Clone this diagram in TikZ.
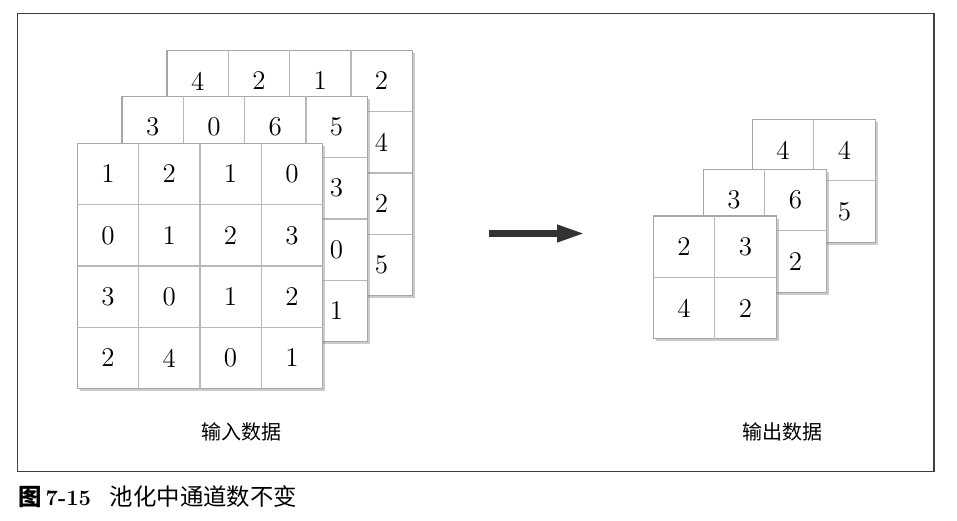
\documentclass[tikz,border=0pt]{standalone}
\usepackage{fontspec}
\newfontfamily\cjk{Noto Sans CJK SC}
\usetikzlibrary{arrows.meta,shadows}

\begin{document}
\begin{tikzpicture}[x=0.5pt,y=-0.5pt,
  layer/.style={draw=black!35,fill=white,line width=0.6pt,
    drop shadow={shadow xshift=1.3pt,shadow yshift=-1.3pt,opacity=0.4}},
  gridline/.style={draw=black!28,line width=0.6pt},
  num/.style={font=\fontsize{13.5}{16}\selectfont,inner sep=0pt},
  label/.style={font=\cjk\fontsize{10}{12}\selectfont}]
\useasboundingbox (0,0) rectangle (957,520);
\draw[black!75,line width=0.7pt] (17.5,13.5) rectangle (934,471.5);
% input, back layer
\draw[layer] (167.0,50.3) rectangle (412.2,295.5);
\draw[gridline] (228.3,50.3) -- (228.3,295.5);
\draw[gridline] (289.6,50.3) -- (289.6,295.5);
\draw[gridline] (350.9,50.3) -- (350.9,295.5);
\draw[gridline] (167.0,111.6) -- (412.2,111.6);
\draw[gridline] (167.0,172.9) -- (412.2,172.9);
\draw[gridline] (167.0,234.2) -- (412.2,234.2);
\node[num] (inc00) at (197.7,81.0) {4};
\node[num] (inc01) at (259.0,81.0) {2};
\node[num] (inc02) at (320.3,81.0) {1};
\node[num] (inc03) at (381.6,81.0) {2};
\node[num] (inc13) at (381.6,142.3) {4};
\node[num] (inc23) at (381.6,203.6) {2};
\node[num] (inc33) at (381.6,264.9) {5};
% input, middle layer
\draw[layer] (122.0,96.3) rectangle (367.2,341.5);
\draw[gridline] (183.3,96.3) -- (183.3,341.5);
\draw[gridline] (244.6,96.3) -- (244.6,341.5);
\draw[gridline] (305.9,96.3) -- (305.9,341.5);
\draw[gridline] (122.0,157.6) -- (367.2,157.6);
\draw[gridline] (122.0,218.9) -- (367.2,218.9);
\draw[gridline] (122.0,280.2) -- (367.2,280.2);
\node[num] (inb00) at (152.7,127.0) {3};
\node[num] (inb01) at (214.0,127.0) {0};
\node[num] (inb02) at (275.3,127.0) {6};
\node[num] (inb03) at (336.6,127.0) {5};
\node[num] (inb13) at (336.6,188.3) {3};
\node[num] (inb23) at (336.6,249.6) {0};
\node[num] (inb33) at (336.6,310.9) {1};
% input, front layer
\draw[layer] (77.3,143.3) rectangle (322.5,388.5);
\draw[gridline] (138.6,143.3) -- (138.6,388.5);
\draw[gridline] (199.9,143.3) -- (199.9,388.5);
\draw[gridline] (261.2,143.3) -- (261.2,388.5);
\draw[gridline] (77.3,204.6) -- (322.5,204.6);
\draw[gridline] (77.3,265.9) -- (322.5,265.9);
\draw[gridline] (77.3,327.2) -- (322.5,327.2);
\node[num] (ina00) at (108.0,174.0) {1};
\node[num] (ina01) at (169.3,174.0) {2};
\node[num] (ina02) at (230.6,174.0) {1};
\node[num] (ina03) at (291.9,174.0) {0};
\node[num] (ina10) at (108.0,235.3) {0};
\node[num] (ina11) at (169.3,235.3) {1};
\node[num] (ina12) at (230.6,235.3) {2};
\node[num] (ina13) at (291.9,235.3) {3};
\node[num] (ina20) at (108.0,296.6) {3};
\node[num] (ina21) at (169.3,296.6) {0};
\node[num] (ina22) at (230.6,296.6) {1};
\node[num] (ina23) at (291.9,296.6) {2};
\node[num] (ina30) at (108.0,357.9) {2};
\node[num] (ina31) at (169.3,357.9) {4};
\node[num] (ina32) at (230.6,357.9) {0};
\node[num] (ina33) at (291.9,357.9) {1};
% arrow
\coordinate (arrowstart) at (489,233.5);
\coordinate (arrowend) at (585,233.5);
\draw[black!80,line width=3.3pt,-{Triangle[length=14pt,width=8pt]}] (arrowstart) -- (arrowend);
% output, back layer
\draw[layer] (752.3,119.3) rectangle (875.1,242.1);
\draw[gridline] (813.7,119.3) -- (813.7,242.1);
\draw[gridline] (752.3,180.7) -- (875.1,180.7);
\node[num] (outc00) at (783.0,150.0) {4};
\node[num] (outc01) at (844.4,150.0) {4};
\node[num] (outc11) at (844.4,211.4) {5};
% output, middle layer
\draw[layer] (703.3,169.3) rectangle (826.1,292.1);
\draw[gridline] (764.7,169.3) -- (764.7,292.1);
\draw[gridline] (703.3,230.7) -- (826.1,230.7);
\node[num] (outb00) at (734.0,200.0) {3};
\node[num] (outb01) at (795.4,200.0) {6};
\node[num] (outb11) at (795.4,261.4) {2};
% output, front layer
\draw[layer] (653.3,216.0) rectangle (776.1,338.8);
\draw[gridline] (714.7,216.0) -- (714.7,338.8);
\draw[gridline] (653.3,277.4) -- (776.1,277.4);
\node[num] (outa00) at (684.0,246.7) {2};
\node[num] (outa01) at (745.4,246.7) {3};
\node[num] (outa10) at (684.0,308.1) {4};
\node[num] (outa11) at (745.4,308.1) {2};
% labels
\node[label] (inlabel) at (241.7,431.5) {输入数据};
\node[label] (outlabel) at (782.5,431.5) {输出数据};
\node[anchor=west,inner sep=0pt,font=\fontsize{11.7}{14}\selectfont] (caption) at (18,497)
  {{\cjk\bfseries 图}\,{\fontsize{11}{14}\selectfont\textbf{7-15}}\hspace{0.8em}{\cjk 池化中通道数不变}};
\end{tikzpicture}
\end{document}
